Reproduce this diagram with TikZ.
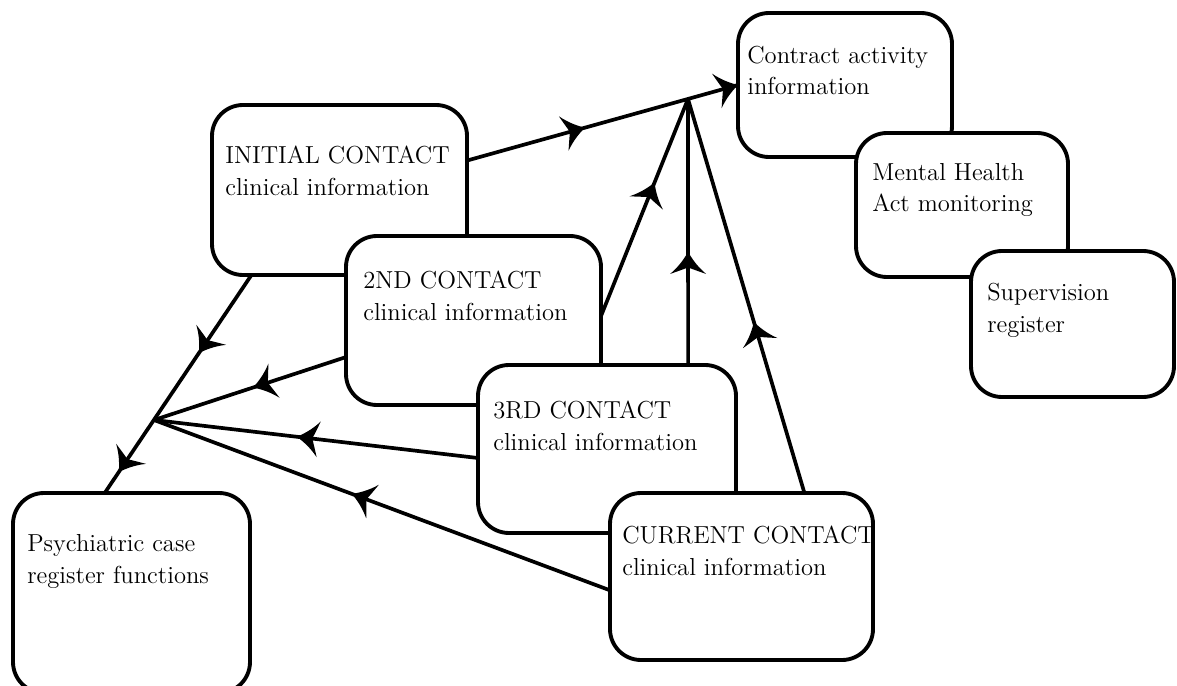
\documentclass[tikz,border=0pt]{standalone}
\usetikzlibrary{decorations.markings}

% barbed arrowhead, tip at the origin, pointing along +x
\newcommand{\barbtip}{%
    \fill (0,0) .. controls (-0.12cm,0.07cm) and (-0.28cm,0.17cm) .. (-0.44cm,0.36cm)
        .. controls (-0.37cm,0.16cm) .. (-0.31cm,0)
        .. controls (-0.37cm,-0.16cm) .. (-0.44cm,-0.36cm)
        .. controls (-0.28cm,-0.17cm) and (-0.12cm,-0.07cm) .. (0,0) -- cycle;}

\begin{document}
\begin{tikzpicture}[
    x=0.02cm,
    y=-0.02cm,
    box/.style={draw=black, fill=white, line width=2.2pt, rounded corners=0.62cm,
        outer sep=0pt, inner sep=0pt, anchor=north west},
    boxtext/.style={anchor=base west, align=left, inner sep=0pt,
        font=\fontsize{14}{18}\selectfont},
    link/.style={draw=black, line width=2.1pt, line cap=round},
    flow/.style={postaction={decorate, decoration={markings,
        mark=at position #1 with {\barbtip}}}}
]
\path[use as bounding box] (0,0) rectangle (1177,686);

% Boxes, back to front: name / left / top / width / height (pixels).
\foreach \name/\x/\y/\w/\h in {
    contract/738/13/214/144,
    mental/856/133/212/144,
    supervision/971/251/203/146,
    initial/212/105/255/170,
    second/346/236/255/169,
    third/478/365/258/168,
    current/610/493/263/167,
    psych/13/493/237/200
} {
    \node[box, minimum width=\w*0.02cm, minimum height=\h*0.02cm] (\name) at (\x,\y) {};
}

% Box texts, second baseline offset from the top left corner.
\node[boxtext] (contractText) at ([shift={(9,82)}]contract.north west)
    {Contract activity\\information};
\node[boxtext] (mentalText) at ([shift={(16,79)}]mental.north west)
    {Mental Health\\Act monitoring};
\node[boxtext] (supervisionText) at ([shift={(16,81)}]supervision.north west)
    {Supervision\\register};
\node[boxtext] (initialText) at ([shift={(13,90)}]initial.north west)
    {INITIAL CONTACT\\clinical information};
\node[boxtext] (secondText) at ([shift={(17,84)}]second.north west)
    {2ND CONTACT\\clinical information};
\node[boxtext] (thirdText) at ([shift={(15,85)}]third.north west)
    {3RD CONTACT\\clinical information};
\node[boxtext] (currentText) at ([shift={(12,82)}]current.north west)
    {CURRENT CONTACT\\clinical information};
\node[boxtext] (psychText) at ([shift={(14,90)}]psych.north west)
    {Psychiatric case\\register functions};

% Meeting points of the flows.
\coordinate (hubTop) at (688,99);
\coordinate (hubLeft) at (154,420);

% Flows up to contract activity information.
\draw[link, flow=0.435, flow=1] (initial.13) -- (contract.west);
\draw[link, flow=0.615] (second.2) -- (hubTop);
\draw[link, flow=0.425] (third.46) -- (hubTop);
\draw[link, flow=0.434] (current.53) -- (hubTop);

% Flows down to the case register.
\draw[link, flow=0.358, flow=0.904] (initial.224) -- (psych.105);
\draw[link, flow=0.484] (second.196) -- (hubLeft);
\draw[link, flow=0.559] (third.184) -- (hubLeft);
\draw[link, flow=0.566] (current.186) -- (hubLeft);
\end{tikzpicture}
\end{document}
